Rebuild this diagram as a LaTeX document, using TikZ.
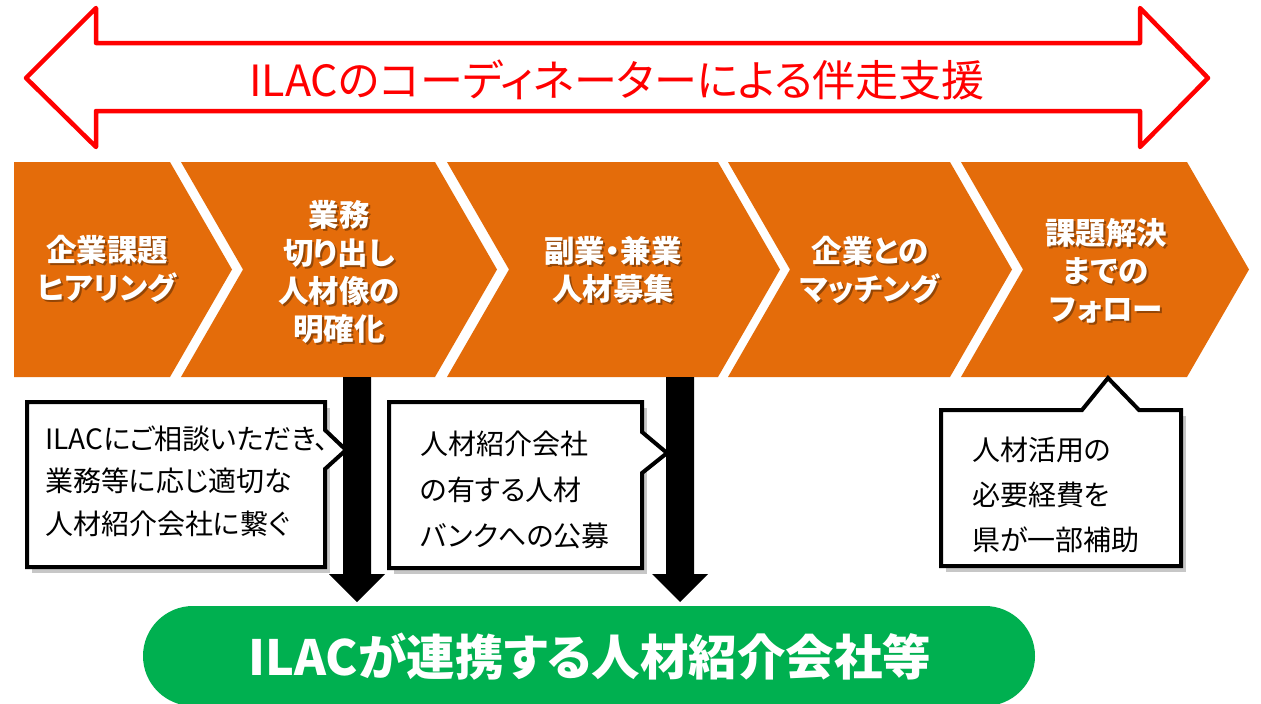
\documentclass[tikz,border=0pt]{standalone}
\usepackage{fontspec}
\setmainfont{Noto Sans CJK JP}[RawFeature=+palt]
\definecolor{chev}{RGB}{228,108,10}
\definecolor{pillgreen}{RGB}{0,176,80}
\definecolor{ttlred}{RGB}{255,0,0}
\begin{document}
\begin{tikzpicture}[x=1pt,y=-1pt,
  chevshape/.style={fill=chev},
  chevtxt/.style={text=white, font=\fontsize{30.5}{38}\selectfont\bfseries, align=center, inner sep=0pt},
  chevshd/.style={text=black, text opacity=0.35, font=\fontsize{30.5}{38}\selectfont\bfseries, align=center, inner sep=0pt},
  callout/.style={draw=black, line width=4pt, fill=white, line join=miter},
  calloutshd/.style={fill=black, fill opacity=0.22},
  boxtxt/.style={font=\fontsize{28}{#1}\selectfont, align=left, anchor=west, inner sep=0pt},
  downarrow/.style={fill=black},
]
\clip (0,0) rectangle (1261,704);
\fill[white] (0,0) rectangle (1261,704);

% red double arrow
\draw[ttlred, line width=4.5pt, line join=round, fill=white]
  (26,78) -- (96,8) -- (96,43) -- (1140,43) -- (1140,8) -- (1208,78)
  -- (1140,147) -- (1140,111) -- (96,111) -- (96,147) -- cycle;
\node[text=ttlred, font=\fontsize{43}{50}\selectfont, inner sep=0pt] (title) at (617,80) {ILACのコーディネーターによる伴走支援};

% chevrons
\fill[chevshape] (14,162) -- (170,162) -- (232,269.5) -- (170,377) -- (14,377) -- cycle;
\fill[chevshape] (181,162) -- (435,162) -- (497,269.5) -- (435,377) -- (181,377) -- (243,269.5) -- cycle;
\fill[chevshape] (447,162) -- (718,162) -- (780,269.5) -- (718,377) -- (447,377) -- (509,269.5) -- cycle;
\fill[chevshape] (728,162) -- (950,162) -- (1012,269.5) -- (950,377) -- (728,377) -- (790,269.5) -- cycle;
\fill[chevshape] (961,162) -- (1187,162) -- (1249,269.5) -- (1187,377) -- (961,377) -- (1023,269.5) -- cycle;

% chevron texts (shadow + text)
\node[chevshd] at (109,271) {企業課題\\ヒアリング};
\node[chevtxt] (c1) at (107,269) {企業課題\\ヒアリング};
\node[chevshd] at (341,274) {業務\\切り出し\\人材像の\\明確化};
\node[chevtxt] (c2) at (339,272) {業務\\切り出し\\人材像の\\明確化};
\node[chevshd] at (615,272) {副業・兼業\\人材募集};
\node[chevtxt] (c3) at (613,270) {副業・兼業\\人材募集};
\node[chevshd] at (872,272) {企業との\\マッチング};
\node[chevtxt] (c4) at (870,270) {企業との\\マッチング};
\node[chevshd] at (1108,273) {課題解決\\までの\\フォロー};
\node[chevtxt] (c5) at (1106,271) {課題解決\\までの\\フォロー};

% black down arrows
\fill[downarrow] (343,377) -- (371,377) -- (371,574) -- (385,574) -- (357,602) -- (329,574) -- (343,574) -- cycle;
\fill[downarrow] (666,377) -- (694,377) -- (694,574) -- (708,574) -- (680,602) -- (652,574) -- (666,574) -- cycle;

% callout shadows
\fill[calloutshd] (32,408) -- (330,408) -- (330,573) -- (32,573) -- cycle;
\fill[calloutshd] (394,408) -- (647,408) -- (647,574) -- (394,574) -- cycle;
\fill[calloutshd] (946,416) -- (1186,416) -- (1186,572) -- (946,572) -- cycle;

% callouts
\draw[callout] (27,402) -- (325,402) -- (325,430) -- (346,450) -- (325,469) -- (325,567) -- (27,567) -- cycle;
\draw[callout] (389,402) -- (642,402) -- (642,432) -- (667,453) -- (642,473) -- (642,568) -- (389,568) -- cycle;
\draw[callout] (941,410) -- (1082,410) -- (1108,378) -- (1139,410) -- (1181,410) -- (1181,566) -- (941,566) -- cycle;

\node[boxtxt=42.5] (b1) at (45,481) {ILACにご相談いただき、\\業務等に応じ適切な\\人材紹介会社に繋ぐ};
\node[boxtxt=46] (b2) at (420,490) {人材紹介会社\\の有する人材\\バンクへの公募};
\node[boxtxt=45] (b3) at (972,495) {人材活用の\\必要経費を\\県が一部補助};

% green pill
\fill[pillgreen, rounded corners=50pt] (143,606) rectangle (1035,706);
\node[text=white, font=\fontsize{48.5}{52}\selectfont\bfseries, inner sep=0pt] (pilltxt) at (590,657) {ILACが連携する人材紹介会社等};
\end{tikzpicture}
\end{document}
